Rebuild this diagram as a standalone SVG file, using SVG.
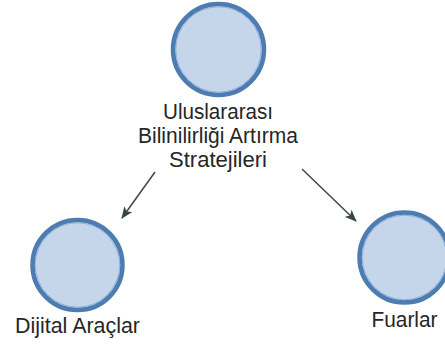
<svg xmlns="http://www.w3.org/2000/svg" width="445" height="347" viewBox="0 0 445 347">
  <defs>
    <marker id="arrow" viewBox="0 0 12 10" refX="11" refY="5" markerWidth="12" markerHeight="10" markerUnits="userSpaceOnUse" orient="auto">
      <path d="M0,0 L12,5 L0,10 L3,5 Z" fill="#37463f"/>
    </marker>
  </defs>
  <style>
    .node .disc { fill: #c6d6ea; stroke: #4d7db0; stroke-width: 4.5; }
    .node .rim { fill: none; stroke: #8fb2dc; stroke-width: 1; }
    .label { font-family: "Liberation Sans", Arial, sans-serif; font-size: 22px; fill: #262626; text-anchor: middle; }
    .edge { stroke: #3d4a44; stroke-width: 1.5; fill: none; marker-end: url(#arrow); }
  </style>
  <rect width="445" height="347" fill="#ffffff"/>
  <g id="edges">
    <line class="edge" x1="155" y1="172" x2="122" y2="218"/>
    <line class="edge" x1="302" y1="169" x2="356" y2="221"/>
  </g>
  <g id="node-root" class="node">
    <circle class="disc" cx="218.5" cy="49.5" r="45.5"/>
    <circle class="rim" cx="218.5" cy="49.5" r="42.7"/>
    <text class="label" x="218" y="119" textLength="110" lengthAdjust="spacingAndGlyphs">Uluslararası</text>
    <text class="label" x="218" y="143" textLength="160" lengthAdjust="spacingAndGlyphs">Bilinilirliği Artırma</text>
    <text class="label" x="218" y="167" textLength="98" lengthAdjust="spacingAndGlyphs">Stratejileri</text>
  </g>
  <g id="node-dijital" class="node">
    <circle class="disc" cx="77.5" cy="265" r="45"/>
    <circle class="rim" cx="77.5" cy="265" r="42.2"/>
    <text class="label" x="77.5" y="333" textLength="125" lengthAdjust="spacingAndGlyphs">Dijital Araçlar</text>
  </g>
  <g id="node-fuarlar" class="node">
    <circle class="disc" cx="404.5" cy="257.5" r="45"/>
    <circle class="rim" cx="404.5" cy="257.5" r="42.2"/>
    <text class="label" x="404.5" y="327" textLength="66" lengthAdjust="spacingAndGlyphs">Fuarlar</text>
  </g>
</svg>
